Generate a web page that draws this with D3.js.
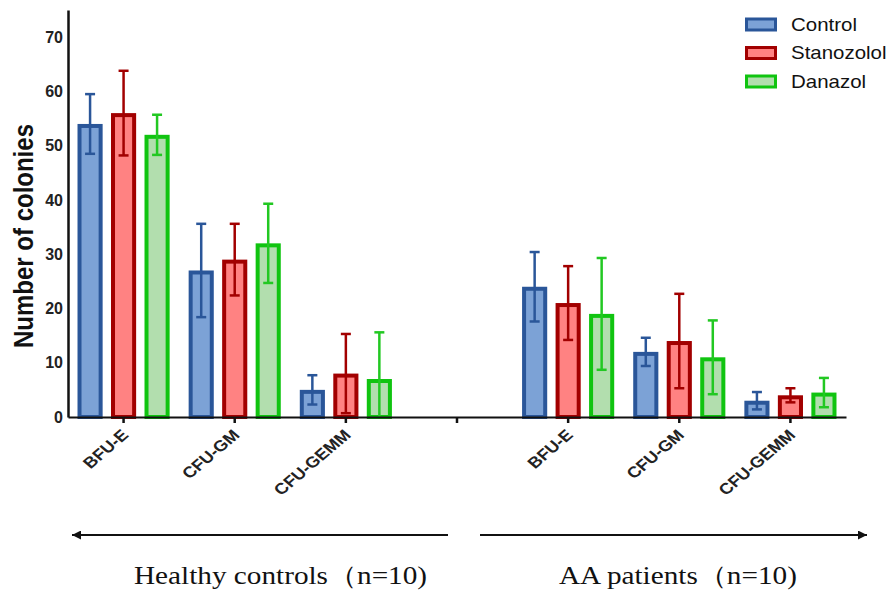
<!DOCTYPE html>
<html>
<head>
<meta charset="utf-8">
<script src="https://cdn.jsdelivr.net/npm/d3@7/dist/d3.min.js"></script>
<style>
body { margin: 0; background: #fff; }
svg { display: block; }
</style>
</head>
<body>
<svg id="chart" width="888" height="595"></svg>
<script>
// categories on the x axis (the 4th slot is the empty gap between the two groups)
const groupKeys = ["HC-BFU-E", "HC-CFU-GM", "HC-CFU-GEMM", "gap", "AA-BFU-E", "AA-CFU-GM", "AA-CFU-GEMM"];
const tickLabels = ["BFU-E", "CFU-GM", "CFU-GEMM", "", "BFU-E", "CFU-GM", "CFU-GEMM"];
const series = ["Control", "Stanozolol", "Danazol"];

// mean and SD of each series (null = no bar)
const controlMean = [54, 27, 5, null, 24, 12, 3];
const controlSD = [5.5, 8.6, 2.7, null, 6.4, 2.6, 1.6];
const stanozololMean = [56, 29, 8, null, 21, 14, 4];
const stanozololSD = [7.8, 6.6, 7.3, null, 6.8, 8.7, 1.3];
const danazolMean = [52, 32, 7, null, 19, 11, 4.5];
const danazolSD = [3.7, 7.3, 8.6, null, 10.3, 6.8, 2.7];

const yTicks = [0, 10, 20, 30, 40, 50, 60, 70];
const groupNames = ["Healthy controls（n=10)", "AA patients（n=10)"];

const means = [controlMean, stanozololMean, danazolMean];
const sds = [controlSD, stanozololSD, danazolSD];

// colours
const fills = ["#7ca2d6", "#ff8282", "#b2deae"];
const strokes = ["#2a5699", "#a20000", "#10c410"];
const errColors = ["#2a5699", "#a20000", "#22c822"];

const svg = d3.select('#chart');
const stretch = 1.17; // the picture's text is a bit wide

const xScale = d3.scaleBand().domain(groupKeys).range([68, 846]);
const seriesScale = d3.scaleBand().domain(series).range([-50.25, 50.25])
    .paddingInner(0.25).paddingOuter(0.125);
const yScale = d3.scaleLinear().domain([0, 75]).range([417, 10]);

const barStroke = 4;
const capW = 10;

let bars = svg.append('g');
let errs = svg.append('g');

series.forEach((name, i) => {
    groupKeys.forEach((key, j) => {
        const m = means[i][j];
        if (m === null) return;
        const sd = sds[i][j];
        const x0 = xScale(key) + xScale.bandwidth() / 2 + seriesScale(name);
        const cx = x0 + seriesScale.bandwidth() / 2;

        bars.append('rect')
            .attr('x', x0 + barStroke / 2)
            .attr('y', yScale(m) + barStroke / 2)
            .attr('width', seriesScale.bandwidth() - barStroke)
            .attr('height', yScale(0) - yScale(m) - barStroke / 2)
            .attr('fill', fills[i]).attr('stroke', strokes[i]).attr('stroke-width', barStroke);

        const hi = m + sd;
        const lo = Math.max(0, m - sd);
        errs.append('line').attr('x1', cx).attr('x2', cx)
            .attr('y1', yScale(hi)).attr('y2', yScale(lo))
            .attr('stroke', errColors[i]).attr('stroke-width', 2.5);
        errs.append('line').attr('x1', cx - capW / 2).attr('x2', cx + capW / 2)
            .attr('y1', yScale(hi)).attr('y2', yScale(hi))
            .attr('stroke', errColors[i]).attr('stroke-width', 2.5);
        if (m - sd > 0) {
            errs.append('line').attr('x1', cx - capW / 2).attr('x2', cx + capW / 2)
                .attr('y1', yScale(lo)).attr('y2', yScale(lo))
                .attr('stroke', errColors[i]).attr('stroke-width', 2.5);
        }
    });
});

// y axis
const yAxis = svg.append('g').attr('transform', 'translate(68,0)')
    .call(d3.axisLeft(yScale).tickValues(yTicks).tickSize(0).tickSizeOuter(0).tickPadding(5));
yAxis.select('.domain').attr('stroke', '#111').attr('stroke-width', 2.5);
yAxis.selectAll('text').attr('font-family', 'Liberation Sans, Arial, sans-serif')
    .attr('font-size', 16).attr('font-weight', 'bold').attr('fill', '#222');

// x axis
const xAxis = svg.append('g').attr('transform', 'translate(0,417)')
    .call(d3.axisBottom(xScale).tickSize(6).tickSizeOuter(0).tickFormat((d, i) => tickLabels[i]));
xAxis.select('.domain').attr('stroke', '#111').attr('stroke-width', 2);
xAxis.selectAll('line').attr('stroke', '#111').attr('stroke-width', 2.5);
xAxis.selectAll('text')
    .attr('x', 0).attr('y', 0).attr('dy', 0)
    .attr('transform', `translate(6,19) scale(${stretch},1) rotate(-45)`)
    .attr('text-anchor', 'end')
    .attr('font-family', 'Liberation Sans, Arial, sans-serif')
    .attr('font-size', 15.5).attr('font-weight', 'bold').attr('fill', '#222');

// y axis title
svg.append('text').text('Number of colonies')
    .attr('transform', `translate(33,236) scale(${stretch},1) rotate(-90)`)
    .attr('text-anchor', 'middle')
    .attr('font-family', 'Liberation Sans, Arial, sans-serif')
    .attr('font-size', 24).attr('font-weight', 'bold').attr('fill', '#111');

// legend
const legendY = [24.5, 53, 81.5];
series.forEach((name, i) => {
    svg.append('rect').attr('x', 746.5).attr('y', legendY[i] - 5.5)
        .attr('width', 29).attr('height', 11)
        .attr('fill', fills[i]).attr('stroke', strokes[i]).attr('stroke-width', 3);
    svg.append('text').text(name)
        .attr('transform', `translate(791,${legendY[i] + 6}) scale(${stretch},1)`)
        .attr('font-family', 'Liberation Sans, Arial, sans-serif')
        .attr('font-size', 17.5).attr('fill', '#111');
});

// arrows under the axis
svg.append('defs').append('marker')
    .attr('id', 'head').attr('viewBox', '0 0 10 10')
    .attr('refX', 10).attr('refY', 5)
    .attr('markerWidth', 4.5).attr('markerHeight', 4.5)
    .attr('orient', 'auto')
    .append('path').attr('d', 'M0,0 L10,5 L0,10 Z').attr('fill', '#111');

svg.append('line').attr('x1', 448).attr('y1', 535).attr('x2', 72).attr('y2', 535)
    .attr('stroke', '#111').attr('stroke-width', 2).attr('marker-end', 'url(#head)');
svg.append('line').attr('x1', 480).attr('y1', 535).attr('x2', 867).attr('y2', 535)
    .attr('stroke', '#111').attr('stroke-width', 2).attr('marker-end', 'url(#head)');

// group names
const groupX = [134, 559];
groupNames.forEach((name, i) => {
    svg.append('text').text(name)
        .attr('transform', `translate(${groupX[i]},584) scale(${stretch},1)`)
        .attr('font-family', 'Liberation Serif, Times New Roman, serif')
        .attr('font-size', 25).attr('fill', '#111');
});
</script>
</body>
</html>
